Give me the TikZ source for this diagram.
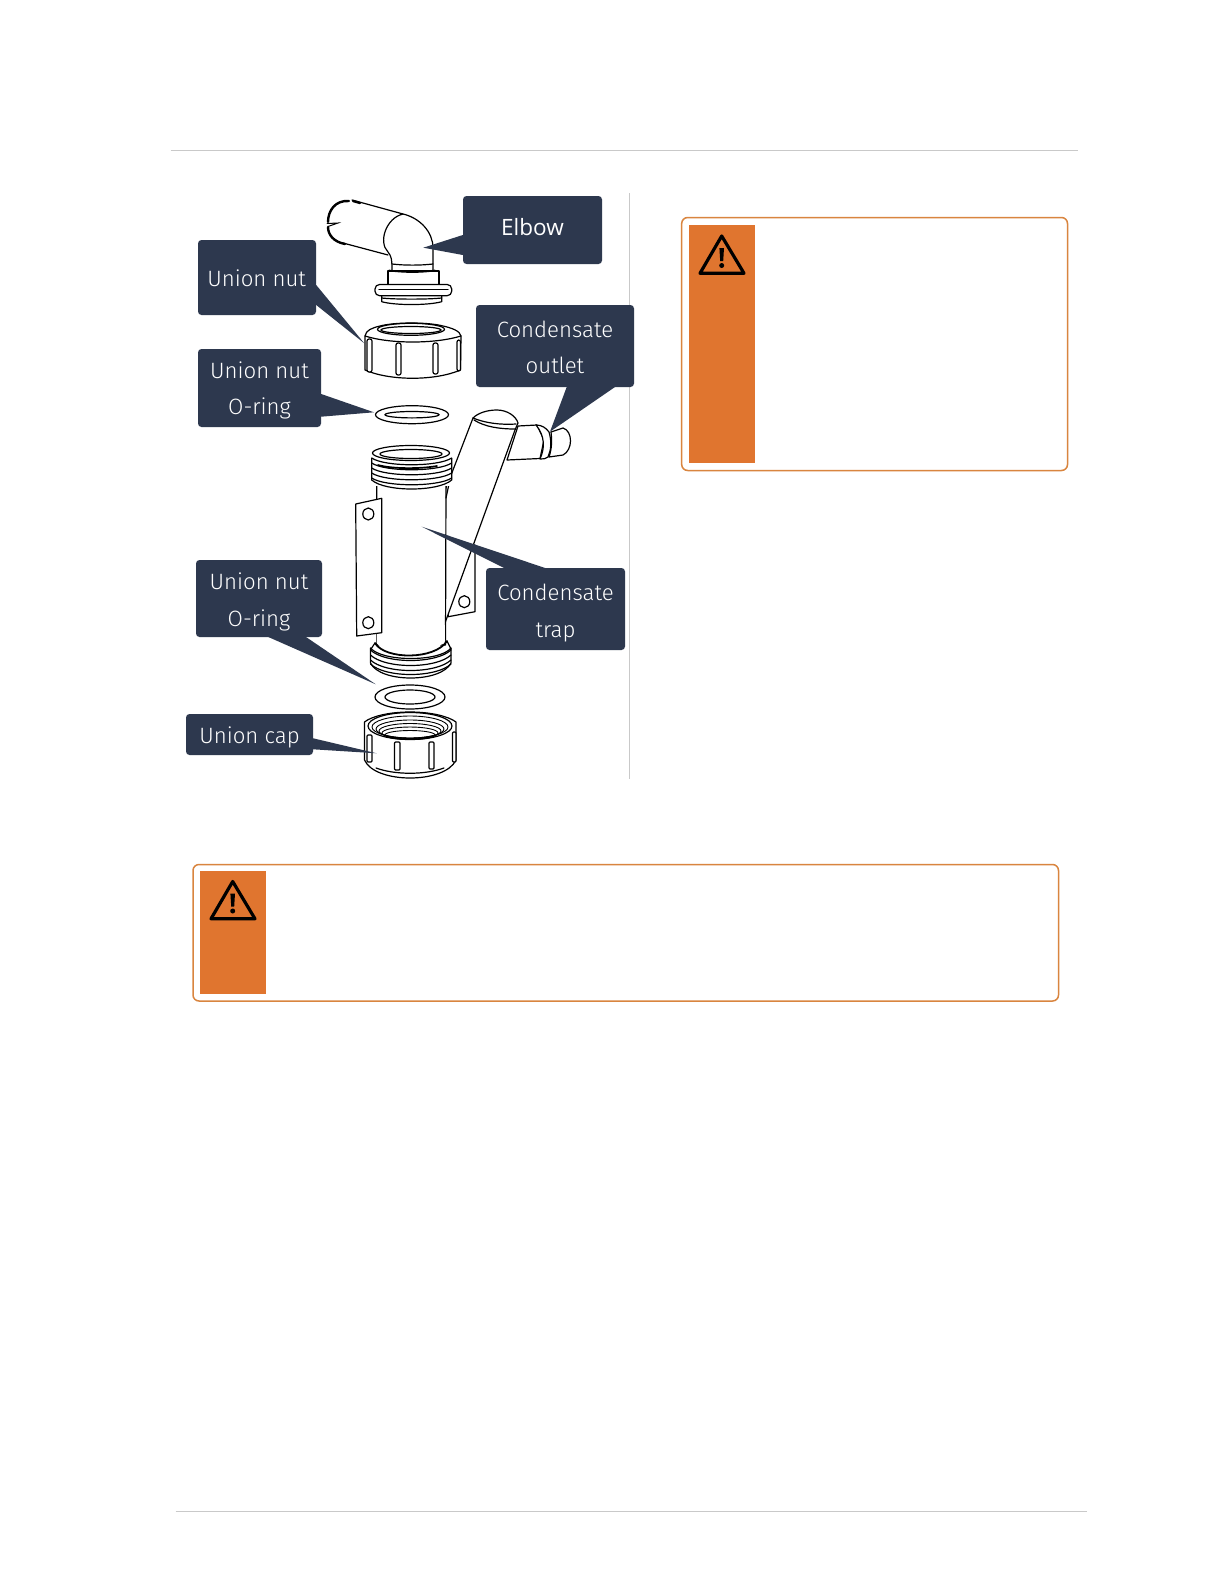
\documentclass[tikz,border=0pt]{standalone}
\usepackage{fontspec}
\setmainfont{Fira Sans Light}
\newfontfamily\elbowfont{Open Sans}
\definecolor{navy}{HTML}{2D384E}
\definecolor{warnfill}{HTML}{E0752F}
\definecolor{warnline}{HTML}{D9853F}
\definecolor{rulegrey}{HTML}{C9C9C9}
\tikzset{
  part/.style={draw=black,line width=1.2pt,fill=white,line join=round},
  ln/.style={draw=black,line width=1.2pt,line cap=round},
  heavy/.style={draw=black,line width=2.4pt,line cap=round},
  callout/.style={fill=navy,rounded corners=3.5pt,inner sep=0pt},
  callouttext/.style={text=white,inner sep=0pt,font=\fontsize{22.2}{36.4}\selectfont,align=center},
  tailshape/.style={fill=navy},
  warnbox/.style={draw=warnline,line width=1.5pt,rounded corners=6pt,fill=white},
  warnflag/.style={fill=warnfill},
  warnmark/.style={draw=black,line width=3.2pt,line join=round},
  rule/.style={draw=rulegrey,line width=0.9pt},
}
\begin{document}
\begin{tikzpicture}[x=1pt,y=-1pt]
\useasboundingbox (0,0) rectangle (1224,1584);
\fill[white] (0,0) rectangle (1224,1584);
% rules
\draw[rule] (170.7,150.5) -- (1077.6,150.5);
\draw[rule] (175.7,1511) -- (1086.7,1511);
\draw[rule] (629.3,193) -- (629.3,779);
% warning boxes
\draw[warnbox] (681.7,217.5) rectangle (1067.5,470.5);
\fill[warnflag] (689,225) rectangle (755,462.5);
\draw[warnmark] (721.7,236) -- (744,273.3) -- (700,273.3) -- cycle;
\fill[black] (719.4,248) -- (724,248) -- (723.2,261) -- (720.2,261) -- cycle;
\fill[black] (721.7,265.5) circle (2.5);
\draw[warnbox] (193,864.5) rectangle (1058.5,1001);
\fill[warnflag] (200,870.5) rectangle (266,993.8);
\draw[warnmark] (232.7,881.5) -- (255,918.8) -- (211,918.8) -- cycle;
\fill[black] (230.4,893.5) -- (235,893.5) -- (234.2,906.5) -- (231.2,906.5) -- cycle;
\fill[black] (232.7,911) circle (2.5);
% elbow
\fill[white] (352,200) -- (403,214) -- (433,250) -- (433,270) -- (392,270) -- (388,255) -- (343,243) -- (328,224) -- cycle;
\draw[ln] (352,200) -- (403,214) .. controls (420,218) and (433,232) .. (433,248) -- (433,270);
\draw[ln] (343,243) -- (388,255);
\draw[ln] (403,214) .. controls (386,218) and (378,242) .. (388,252) .. controls (391,256) and (392,258) .. (392,270);
\draw[heavy] (349,201) .. controls (335,200) and (328,211) .. (328,222);
\draw[heavy] (328,227) .. controls (328,235) and (334,242) .. (345,244);
\draw[heavy] (353,201) -- (360,203);
\draw[ln,line width=1pt] (327,223.5) -- (338,223) -- (328,226.5);
\draw[ln] (392,264) .. controls (405,265.5) and (420,265.5) .. (433,264);
% collar
\draw[part] (388,271) -- (439,271) -- (439,285) -- (388,285) -- cycle;
\draw[heavy,line width=1.7pt] (389,270.5) .. controls (405,272.5) and (420,272.5) .. (435,270.5);
\draw[ln,line width=1.7pt] (388,287) .. controls (405,288.5) and (425,288.5) .. (439,287);
% flange
\draw[part] (381.7,295) -- (381.7,301.7) .. controls (395,305.5) and (428,305.5) .. (441.7,301.7) -- (441.7,295) -- cycle;
\draw[part,rounded corners=4.5pt] (375,284.5) rectangle (451.7,295.7);
\draw[ln] (379,289.5) -- (448,289.5);
\draw[ln] (381.7,298) .. controls (395,299.5) and (428,299.5) .. (441.7,298);
% union nut
\draw[part] (365,336) .. controls (366,330) and (372,328) .. (380,326) .. controls (395,322) and (428,322) .. (443,326) .. controls (452,328) and (460,331) .. (461,336) -- (460.5,370)
  .. controls (435,381) and (390,381) .. (365,370) -- cycle;
\draw[ln] (365,336) .. controls (390,344) and (435,344) .. (461,336);
\draw[ln] (411,329.3) ellipse (33.5 and 6);
\draw[ln] (411,330) ellipse (30 and 3.5);
\draw[part,rounded corners=2pt] (367,339) rectangle (372,372);
\draw[part,rounded corners=2pt] (396,343) rectangle (401,375);
\draw[part,rounded corners=2pt] (433,343) rectangle (438,374);
\draw[part,rounded corners=2pt] (457,340) rectangle (460.5,371);
% o-ring top
\draw[part] (412,414.7) ellipse (36.5 and 9);
\draw[ln] (412,414.7) ellipse (27 and 3.2);
% right plate
\draw[part] (475,545) -- (475,611.7) -- (448.3,616.7) -- (448.3,545) -- cycle;
\draw[part] (464.3,601.7) ellipse (5.5 and 6);
% branch
\draw[part] (473,418) .. controls (478,413) and (487,410) .. (497,410) .. controls (507,410) and (516,416) .. (518,423) -- (515,430) -- (445,623) -- (445,490) -- (453,470) -- cycle;
\draw[ln] (473,418) .. controls (485,423) and (500,425) .. (516,424);
\draw[ln] (474,420) .. controls (485,427) and (500,429) .. (515,429);
% outlet
\draw[part] (518,426) -- (537,425) -- (544,440) -- (540,458.5) -- (507,460) -- cycle;
\draw[part] (536,425) .. controls (542,425) and (546,428) .. (549,432) .. controls (552,442) and (551,450) .. (548,457) .. controls (546,459) and (543,459) .. (540,459) .. controls (545,448) and (545,436) .. (536,425) -- cycle;
\draw[part] (551,432) -- (563,428) .. controls (573,431) and (573,450) .. (563,455) -- (549,457) .. controls (552,448) and (552,440) .. (551,432) -- cycle;
% tube
\draw[part] (376.7,484) -- (446,484) -- (445.5,645) -- (376.7,645) -- cycle;
\draw[ln] (449,484) -- (446,498);
% top thread
\fill[white] (371.7,453) rectangle (451.7,486);
\draw[part] (371.7,458) -- (371.7,480) .. controls (385,492) and (438,492) .. (451.7,480) -- (451.7,458);
\foreach \yy in {458,463,468,473,478}{
  \draw[ln] (371.7,\yy) .. controls (385,\yy+9) and (438,\yy+9) .. (451.7,\yy);
}
\draw[part] (411,453) ellipse (38.5 and 7.5);
\draw[ln] (411,454) ellipse (31 and 4.5);
\draw[ln,line width=1.7pt] (378,465) .. controls (392,469) and (420,469) .. (437,466);
% bottom thread
\draw[part] (370.5,648) -- (370.5,663) .. controls (380,683) and (441,683) .. (451,663) -- (451,648)
  .. controls (440,662) and (382,662) .. (370.5,648) -- cycle;
\foreach \yy in {650,655,660,664}{
  \draw[ln] (370.5,\yy) .. controls (385,\yy+14) and (436,\yy+14) .. (451,\yy);
}
\fill[white] (376.7,625) -- (376.7,643) .. controls (390,659) and (432,659) .. (445.5,640) -- (445.5,625) -- cycle;
\draw[ln,line width=1.8pt] (375,643) .. controls (385,660) and (435,660) .. (447,641);
\draw[ln] (371,649) -- (375,643);
\draw[ln] (451,649) -- (447,641);
\draw[ln] (445.5,620) -- (445.5,640);
% left plate
\draw[part] (355.7,504) -- (381.7,498.3) -- (381.7,632.7) -- (356.7,636) -- cycle;
\draw[part] (368.3,514) ellipse (5.5 and 6);
\draw[part] (368.3,622.7) ellipse (5.5 and 6);
% o-ring bottom
\draw[part] (410,697) ellipse (35 and 12);
\draw[ln] (410,697) ellipse (25 and 7);
% union cap
\draw[part] (364.5,722) .. controls (372,716) and (390,712) .. (410,712) .. controls (430,712) and (448,716) .. (456,722) -- (456,760) .. controls (445,784) and (375,784) .. (364.5,760) -- cycle;
\draw[ln] (376,768) .. controls (395,775) and (425,775) .. (444,768);
\draw[ln] (410,726) ellipse (42 and 13.5);
\draw[ln,line width=0.9pt] (410,727) ellipse (38 and 11);
\draw[ln,line width=0.9pt] (410,729) ellipse (34 and 9);
\draw[ln,line width=0.9pt] (410,731) ellipse (31 and 7.5);
\draw[ln,line width=0.9pt] (410,733) ellipse (28 and 6);
\draw[ln,line width=0.9pt] (410,735) ellipse (25 and 4.5);
\draw[part,rounded corners=1pt] (367,735) rectangle (372,762);
\draw[part,rounded corners=1pt] (394.5,742) rectangle (400,770);
\draw[part,rounded corners=1pt] (429,742) rectangle (434,769);
\draw[part,rounded corners=1pt] (452.5,732) rectangle (456,762);
% callouts
\node[callout,minimum width=139pt,minimum height=68pt] (elbow) at (532.5,230) {};
\node[callout,minimum width=118pt,minimum height=75pt] (nut) at (257,277.5) {};
\node[callout,minimum width=123pt,minimum height=78pt] (ringa) at (259.5,388) {};
\node[callout,minimum width=158pt,minimum height=82pt] (outlet) at (555,346) {};
\node[callout,minimum width=139pt,minimum height=82pt] (trap) at (555.5,609) {};
\node[callout,minimum width=126pt,minimum height=77pt] (ringb) at (259,598.5) {};
\node[callout,minimum width=127pt,minimum height=41pt] (cap) at (249.5,734.5) {};
\node[callouttext,font=\elbowfont\fontsize{22.5}{28}\selectfont] (elbowtext) at (532.5,227.5) {Elbow};
\node[callouttext] (nuttext) at (256.7,278) {Union nut};
\node[callouttext] (ringatext) at (259.5,390.5) {Union nut\\O-ring};
\node[callouttext] (outlettext) at (555,347.5) {Condensate\\outlet};
\node[callouttext] (traptext) at (555.5,613) {Condensate\\trap};
\node[callouttext] (ringbtext) at (259,602) {Union nut\\O-ring};
\node[callouttext] (captext) at (249.5,737) {Union cap};
% tails
\coordinate (elbowtip) at (423.3,247.7);
\coordinate (nuttip) at (364.3,343.3);
\coordinate (ringatip) at (374,412.3);
\coordinate (outlettip) at (550,431.7);
\coordinate (traptip) at (421.7,526.7);
\coordinate (ringbtip) at (375.7,684.3);
\coordinate (captip) at (376.7,753.3);
\fill[tailshape] (elbow.west |- 0,235) -- (elbowtip) -- (elbow.west |- 0,255) -- cycle;
\fill[tailshape] (nut.east |- 0,285) -- (nuttip) -- (nut.east |- 0,305) -- cycle;
\fill[tailshape] (ringa.east |- 0,394) -- (ringatip) -- (ringa.east |- 0,416.7) -- cycle;
\fill[tailshape] (566.7,387) -- (outlettip) -- (615,387) -- cycle;
\fill[tailshape] (505,568.5) -- (traptip) -- (546.7,568.5) -- cycle;
\fill[tailshape] (268.3,637) -- (ringbtip) -- (306,637) -- cycle;
\fill[tailshape] (cap.east |- 0,738.3) -- (captip) -- (cap.east |- 0,749.3) -- cycle;
\end{tikzpicture}
\end{document}
